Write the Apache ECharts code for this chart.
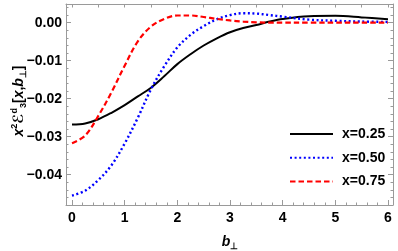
<!DOCTYPE html>
<html>
<head>
<meta charset="utf-8">
<script src="https://cdn.jsdelivr.net/npm/echarts@6/dist/echarts.min.js"></script>
<style>html,body{margin:0;padding:0;background:#fff}#c{width:398px;height:251px}</style>
</head>
<body>
<div id="c"></div>
<script>
// ---- data ----
const bPerp = [0, 0.25, 0.5, 0.75, 1.0, 1.25, 1.5, 1.75, 2.0, 2.25, 2.5, 2.75, 3.0, 3.25, 3.5, 3.75, 4.0, 4.5, 5.0, 5.5, 6.0];
const x025 = [-0.0268, -0.0265, -0.0254, -0.0237, -0.0217, -0.0194, -0.0171, -0.0141, -0.0109, -0.0083, -0.0060, -0.0041, -0.0025, -0.0014, -0.0006, 0.0003, 0.0010, 0.0017, 0.0018, 0.0014, 0.0009];
const x050 = [-0.0455, -0.0442, -0.0414, -0.0375, -0.0318, -0.0250, -0.0175, -0.0115, -0.0065, -0.0032, -0.0009, 0.0009, 0.0020, 0.0025, 0.0024, 0.0020, 0.0016, 0.0008, 0.0005, 0.0003, 0.0002];
const x075 = [-0.0317, -0.0297, -0.0245, -0.0183, -0.0113, -0.0049, -0.0010, 0.0010, 0.0019, 0.0019, 0.0015, 0.0010, 0.0006, 0.0003, 0.0001, 0.0000, 0.0000, 0.0000, 0.0000, 0.0000, 0.0000];
const seriesNames = ['x=0.25', 'x=0.50', 'x=0.75'];
const xTicks = [0, 1, 2, 3, 4, 5, 6];
const yTicks = [-0.04, -0.03, -0.02, -0.01, 0];

// ---- derived tick sets ----
const xMinor = [], xTop = [], yMinor = [];
for (let i = 0; i <= 30; i++) { if (i % 5) xMinor.push(+(i * 0.2).toFixed(2)); }
for (let i = 0; i <= 12; i++) xTop.push(i * 0.5);
for (let i = -24; i <= 2; i++) { if (i % 5) yMinor.push(+(i * 0.002).toFixed(3)); }

const XMIN = -0.114, XMAX = 6.095, YMIN = -0.04797, YMAX = 0.00492;
const FRAME = '#9a9a9a';
const FONT = 'Liberation Sans';

function pairs(ys) { return bPerp.map((b, i) => [b, ys[i]]); }

function xAx(pos, ticks, len, labels, showLine) {
  return {
    type: 'value', position: pos, min: XMIN, max: XMAX,
    axisLine: { show: showLine, onZero: false, lineStyle: { color: FRAME, width: 1 } },
    axisTick: { show: true, inside: true, length: len, customValues: ticks, lineStyle: { color: FRAME, width: 1 } },
    axisLabel: labels ? { show: true, customValues: xTicks, margin: 6, color: '#000', fontFamily: FONT, fontWeight: 'bold', fontSize: 14, formatter: v => String(Math.round(v)) } : { show: false },
    splitLine: { show: false }
  };
}
function yAx(pos, ticks, len, labels, showLine) {
  return {
    type: 'value', position: pos, min: YMIN, max: YMAX,
    axisLine: { show: showLine, onZero: false, lineStyle: { color: FRAME, width: 1 } },
    axisTick: { show: true, inside: true, length: len, customValues: ticks, lineStyle: { color: FRAME, width: 1 } },
    axisLabel: labels ? { show: true, customValues: yTicks, margin: 4, color: '#000', fontFamily: FONT, fontWeight: 'bold', fontSize: 14,
      formatter: v => Math.abs(v) < 1e-9 ? '0.00' : '\u2212' + Math.abs(v).toFixed(2) } : { show: false },
    splitLine: { show: false }
  };
}

const chart = echarts.init(document.getElementById('c'), null, { renderer: 'canvas' });
chart.setOption({
  animation: false,
  backgroundColor: '#fff',
  grid: { left: 66, right: 5, top: 4, bottom: 46, containLabel: false },
  xAxis: [
    xAx('bottom', xTicks, 5, true, true),
    xAx('bottom', xMinor, 2.5, false, false),
    xAx('top', xTop, 3.5, false, true)
  ],
  yAxis: [
    yAx('left', yTicks, 5, true, true),
    yAx('left', yMinor, 2.5, false, false),
    yAx('right', yTicks, 5, false, true),
    yAx('right', yMinor, 2.5, false, false)
  ],
  legend: {
    orient: 'vertical', left: 289, top: 127, padding: 0,
    itemWidth: 43, itemHeight: 14, itemGap: 9.7,
    itemStyle: { opacity: 0 },
    textStyle: { fontFamily: FONT, fontWeight: 'bold', fontSize: 14, color: '#000', padding: [0, 0, 0, 4] },
    data: seriesNames
  },
  series: [
    { name: seriesNames[0], type: 'line', data: pairs(x025), smooth: 0.35, symbol: 'none', z: 3,
      lineStyle: { color: '#000', width: 2 }, itemStyle: { color: '#000' } },
    { name: seriesNames[1], type: 'line', data: pairs(x050), smooth: 0.35, symbol: 'none', z: 4,
      lineStyle: { color: '#0000ff', width: 2.4, type: [2, 2.6] }, itemStyle: { color: '#0000ff' } },
    { name: seriesNames[2], type: 'line', data: pairs(x075), smooth: 0.35, symbol: 'none', z: 5,
      lineStyle: { color: '#ff0000', width: 2.2, type: [5.5, 3] }, itemStyle: { color: '#ff0000' } }
  ],
  graphic: [
    { type: 'text', x: 19, y: 101, rotation: Math.PI / 2, z: 10,
      style: {
        text: '{i|x}{sup|2}{e|\u2130}{sup|d}{sub|3}{n|[}{i|x}{n|,}{i|b}{sub|\u22a5}{n|]}',
        align: 'center', verticalAlign: 'middle', fill: '#000',
        rich: {
          i: { fontFamily: FONT, fontWeight: 'bold', fontStyle: 'italic', fontSize: 14, fill: '#000', lineHeight: 18 },
          n: { fontFamily: FONT, fontWeight: 'bold', fontSize: 14, fill: '#000', lineHeight: 18 },
          e: { fontFamily: 'DejaVu Sans', fontWeight: 'bold', fontSize: 14, fill: '#000', lineHeight: 18 },
          sup: { fontFamily: FONT, fontWeight: 'bold', fontSize: 9, fill: '#000', verticalAlign: 'top', lineHeight: 18, padding: [0, 0, 6, 0] },
          sub: { fontFamily: FONT, fontWeight: 'bold', fontSize: 9, fill: '#000', verticalAlign: 'bottom', lineHeight: 18, padding: [5, 0, 0, 0] }
        }
      } },
    { type: 'text', x: 230, y: 242, z: 10,
      style: {
        text: '{i|b}{sub|\u22a5}',
        align: 'center', verticalAlign: 'middle', fill: '#000',
        rich: {
          i: { fontFamily: FONT, fontWeight: 'bold', fontStyle: 'italic', fontSize: 14, fill: '#000', lineHeight: 18 },
          sub: { fontFamily: FONT, fontWeight: 'bold', fontSize: 9, fill: '#000', verticalAlign: 'bottom', lineHeight: 18, padding: [5, 0, 0, 0] }
        }
      } }
  ]
});
</script>
</body>
</html>
